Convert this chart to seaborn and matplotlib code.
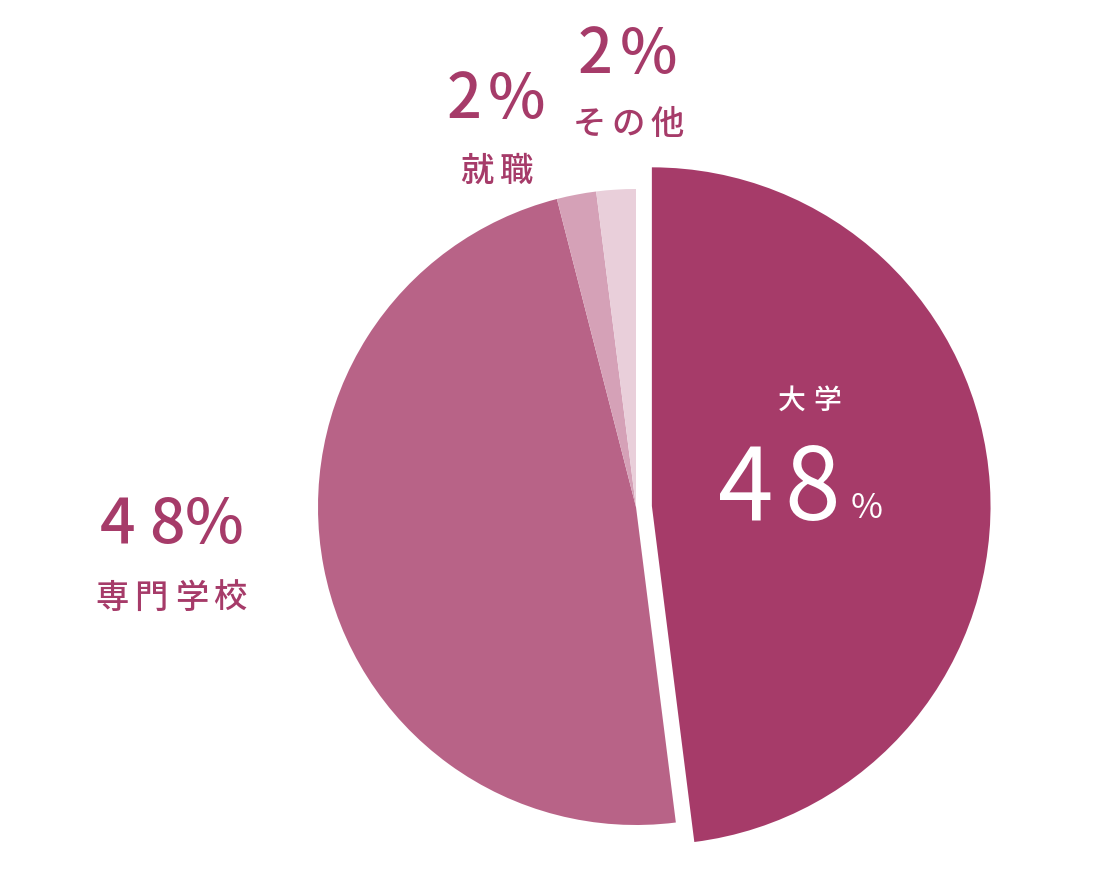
import matplotlib.pyplot as plt
import seaborn as sns

# data
labels = ['大学', '専門学校', '就職', 'その他']
shares = [48, 48, 2, 2]
colors = ['#A63B69', '#B86387', '#D5A1B7', '#E9CFDA']
text_color = '#A63B69'

sns.set_theme(style='white')
plt.rcParams['font.family'] = ['Noto Sans CJK JP', 'DejaVu Sans']

fig = plt.figure(figsize=(11, 8.8), dpi=100)
ax = fig.add_axes([0, 0, 1, 1])

# pie centre and radius in image pixels
CX, CY, R = 636, 507, 318


def px(x, y):
    # image pixel (top-left origin) -> data coords
    return (x - CX) / R, (CY - y) / R


wedges, _ = ax.pie(shares, colors=colors, startangle=90, counterclock=False,
                   explode=[0.05, 0, 0, 0], wedgeprops=dict(linewidth=0))
wedges[0].set_radius(1.065)

ax.set_xlim(px(0, 0)[0], px(1100, 0)[0])
ax.set_ylim(px(0, 880)[1], px(0, 0)[1])
ax.set_axis_off()


def chars(s, xs, y, size, color, va='center', weight='medium'):
    # draw characters one by one to get the wide letter spacing
    for ch, x in zip(s, xs):
        X, Y = px(x, y)
        ax.text(X, Y, ch, fontsize=size, color=color, ha='center', va=va,
                fontweight=weight)


# その他
chars('2%', [595, 648], 73, 44, text_color, va='baseline')
chars(labels[3], [589, 628, 667], 124, 24, text_color)
# 就職
chars('2%', [464, 516], 118, 44, text_color, va='baseline')
chars(labels[2], [477, 516], 171, 24, text_color)
# 専門学校
chars('48%', [118, 167, 214], 543, 45, text_color, va='baseline')
chars(labels[1], [112, 151, 192, 230], 598, 24, text_color)
# 大学 (inside the wedge)
chars(labels[0], [792, 827], 400, 20, 'white')
chars('48', [746, 812], 520, 72, 'white', va='baseline', weight='normal')
chars('%', [867], 518, 25, 'white', va='baseline', weight='normal')

fig.savefig('out.png', dpi=100)
